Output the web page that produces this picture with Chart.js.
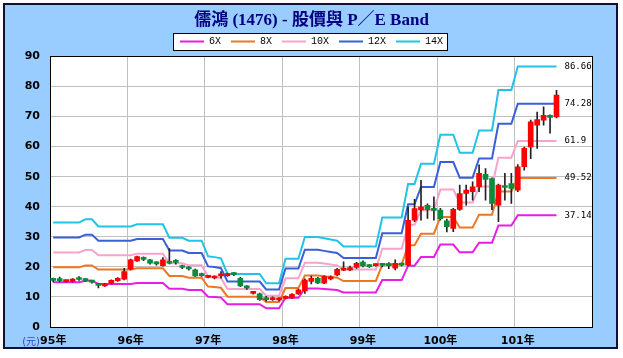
<!DOCTYPE html>
<html>
<head>
<meta charset="utf-8">
<script src="https://cdn.jsdelivr.net/npm/chart.js@4/dist/chart.umd.min.js"></script>
<style>
html,body{margin:0;padding:0;background:#fff;}
canvas{display:block;}
</style>
</head>
<body>
<canvas id="c" width="623" height="358"></canvas>
<script>
// ---- data ----
const titleText = '儒鴻 (1476) - 股價與 P／E Band';
const yearLabels = ['95年','96年','97年','98年','99年','100年','101年'];
const months = [];
for (let y = 95; y <= 101; y++) for (let m = 1; m <= 12; m++) months.push(y + '/' + String(m).padStart(2, '0'));

const open  = [15.8,15.8,15.1,15.2,16.2,15.8,15.2,14.3,13.7,14.5, 15.4,15.9,19.3,22.0,22.9,22.3,21.4,20.4,21.6,22.0, 20.3,19.8,19.0,17.6,16.5,16.3,17.0,17.1,17.8,16.2, 13.5,11.2,11.0,9.4,9.1,9.0,9.5,9.7,11.0,12.0, 15.2,16.2,14.6,16.0,17.3,18.9,19.0,19.8,21.6,20.5, 20.4,20.8,20.8,19.6,21.0,20.6,35.5,38.9,40.5,39.2, 38.9,35.3,32.8,39.1,44.4,45.0,46.6,50.8,49.4,40.5, 46.8,47.7,45.5,53.3,59.9,67.1,68.8,70.1,69.9];
const high  = [16.3,16.6,15.6,16.1,16.8,16.1,15.4,14.5,14.4,15.7, 16.4,19.5,22.6,23.6,23.3,22.5,21.7,23.1,26.1,22.4, 20.6,20.1,19.3,17.9,17.2,17.0,18.4,17.9,18.1,16.5, 13.8,11.9,11.3,10.2,10.0,9.8,10.4,11.1,12.6,16.0, 16.9,16.5,17.0,17.0,19.5,21.7,20.3,21.5,22.0,20.8, 21.0,21.2,21.4,22.3,21.3,40.0,42.5,48.8,41.0,43.3, 39.5,35.9,39.5,47.2,47.2,48.3,53.9,52.7,49.6,47.5, 51.1,51.1,54.0,59.8,68.8,71.5,73.2,70.6,78.7];
const low   = [15.0,15.0,14.9,15.0,15.5,15.2,14.6,13.0,13.5,14.3, 15.2,15.7,19.0,21.8,22.1,20.9,20.6,20.2,21.0,20.9, 19.4,18.9,16.8,16.8,16.3,16.0,16.2,16.8,17.1,13.4, 12.5,10.9,8.8,8.6,8.8,8.7,9.3,9.5,10.8,11.2, 14.3,14.4,14.4,15.7,17.0,18.7,18.7,19.5,20.0,19.8, 20.2,20.0,19.4,19.0,20.3,20.3,35.0,35.5,36.1,35.5, 35.5,31.6,31.7,38.8,40.5,42.2,45.0,42.2,39.0,35.0, 42.2,41.1,45.0,52.2,56.0,59.4,67.1,64.5,69.5];
const close = [15.5,15.4,15.4,15.9,15.8,15.4,14.9,13.8,14.2,15.5, 16.2,18.4,22.3,23.4,22.5,21.2,21.0,22.3,21.2,21.5, 19.8,19.3,17.0,17.1,16.9,16.7,17.5,17.5,17.4,13.7, 13.0,11.6,9.1,9.1,9.4,9.3,10.1,10.9,12.4,15.6, 16.2,14.7,16.8,16.4,19.2,19.6,19.8,21.2,20.3,20.1, 20.8,20.5,20.4,21.2,20.6,35.5,39.4,40.0,39.0,38.8, 36.0,33.4,39.1,44.4,45.5,46.6,51.1,49.1,41.1,47.2, 46.4,46.1,53.3,59.4,68.2,69.0,70.4,69.7,77.1];

const band6X  = [14.88,14.88,14.88,14.88,14.88,15.36,15.36,14.34,14.34,14.34,14.34,14.34,14.34,14.64,14.64,14.64,14.64,14.64,12.72,12.72,12.72,12.3,12.3,12.3,10.08,9.96,9.78,7.56,7.56,7.56,7.56,7.56,7.56,6.24,6.24,6.24,9.72,9.72,9.72,12.84,12.84,12.84,12.66,12.48,12.3,11.46,11.46,11.46,11.46,11.46,11.46,15.6,15.6,15.6,15.6,20.4,20.4,23.28,23.28,23.28,27.42,27.42,27.42,24.84,24.84,24.84,28.02,28.02,28.02,33.78,33.78,33.78,37.14,37.14,37.14,37.14,37.14,37.14,37.14];
const band8X  = [19.84,19.84,19.84,19.84,19.84,20.48,20.48,19.12,19.12,19.12,19.12,19.12,19.12,19.52,19.52,19.52,19.52,19.52,16.96,16.96,16.96,16.4,16.4,16.4,13.44,13.28,13.04,10.08,10.08,10.08,10.08,10.08,10.08,8.32,8.32,8.32,12.96,12.96,12.96,17.12,17.12,17.12,16.88,16.64,16.4,15.28,15.28,15.28,15.28,15.28,15.28,20.8,20.8,20.8,20.8,27.2,27.2,31.04,31.04,31.04,36.56,36.56,36.56,33.12,33.12,33.12,37.36,37.36,37.36,45.04,45.04,45.04,49.52,49.52,49.52,49.52,49.52,49.52,49.52];
const band10X = [24.8,24.8,24.8,24.8,24.8,25.6,25.6,23.9,23.9,23.9,23.9,23.9,23.9,24.4,24.4,24.4,24.4,24.4,21.2,21.2,21.2,20.5,20.5,20.5,16.8,16.6,16.3,12.6,12.6,12.6,12.6,12.6,12.6,10.4,10.4,10.4,16.2,16.2,16.2,21.4,21.4,21.4,21.1,20.8,20.5,19.1,19.1,19.1,19.1,19.1,19.1,26,26,26,26,34,34,38.8,38.8,38.8,45.7,45.7,45.7,41.4,41.4,41.4,46.7,46.7,46.7,56.3,56.3,56.3,61.9,61.9,61.9,61.9,61.9,61.9,61.9];
const band12X = [29.76,29.76,29.76,29.76,29.76,30.72,30.72,28.68,28.68,28.68,28.68,28.68,28.68,29.28,29.28,29.28,29.28,29.28,25.44,25.44,25.44,24.6,24.6,24.6,20.16,19.92,19.56,15.12,15.12,15.12,15.12,15.12,15.12,12.48,12.48,12.48,19.44,19.44,19.44,25.68,25.68,25.68,25.32,24.96,24.6,22.92,22.92,22.92,22.92,22.92,22.92,31.2,31.2,31.2,31.2,40.8,40.8,46.56,46.56,46.56,54.84,54.84,54.84,49.68,49.68,49.68,56.04,56.04,56.04,67.56,67.56,67.56,74.28,74.28,74.28,74.28,74.28,74.28,74.28];
const band14X = [34.72,34.72,34.72,34.72,34.72,35.84,35.84,33.46,33.46,33.46,33.46,33.46,33.46,34.16,34.16,34.16,34.16,34.16,29.68,29.68,29.68,28.7,28.7,28.7,23.52,23.24,22.82,17.64,17.64,17.64,17.64,17.64,17.64,14.56,14.56,14.56,22.68,22.68,22.68,29.96,29.96,29.96,29.54,29.12,28.7,26.74,26.74,26.74,26.74,26.74,26.74,36.4,36.4,36.4,36.4,47.6,47.6,54.32,54.32,54.32,63.98,63.98,63.98,57.96,57.96,57.96,65.38,65.38,65.38,78.82,78.82,78.82,86.66,86.66,86.66,86.66,86.66,86.66,86.66];

const bandNames  = ['6X','8X','10X','12X','14X'];
const bandSeries = [band6X, band8X, band10X, band12X, band14X];
const bandColors = ['#E61EE6','#EE7722','#F7A3CB','#3A5FD8','#22C3E6'];

// ---- chart ----
const bodies = open.map((o, i) => [o, close[i]]);
const wicks  = low.map((l, i) => [l, high[i]]);
const bodyColors = open.map((o, i) => close[i] >= o ? '#FF0000' : '#0B8B3B');

const datasets = [
  { type: 'bar', label: 'body', data: bodies, backgroundColor: bodyColors, barThickness: 5, grouped: false, minBarLength: 2, order: 0 },
  { type: 'bar', label: 'wick', data: wicks, backgroundColor: '#222', barThickness: 1, grouped: false, order: 1 }
];
bandNames.forEach((n, k) => datasets.push({
  type: 'line', label: n, data: bandSeries[k], borderColor: bandColors[k], backgroundColor: bandColors[k],
  borderWidth: 2, pointRadius: 0, tension: 0, fill: false, order: 2
}));

const framePlugin = {
  id: 'frame',
  beforeDraw(chart) {
    const { ctx, chartArea: a } = chart;
    ctx.save();
    ctx.fillStyle = '#fff';
    ctx.fillRect(0, 0, chart.width, chart.height);
    ctx.fillStyle = '#99CCFF';
    ctx.fillRect(4, 4, 613, 344);
    ctx.strokeStyle = '#10103a';
    ctx.lineWidth = 2;
    ctx.strokeRect(4, 4, 613, 344);
    ctx.fillStyle = '#fff';
    ctx.fillRect(a.left, a.top, a.right - a.left, a.bottom - a.top);
    const hb = chart.legend && chart.legend.legendHitBoxes;
    if (hb && hb.length) {
      const l = Math.min(...hb.map(h => h.left)) - 7;
      const r = Math.max(...hb.map(h => h.left + h.width)) + 4;
      const t = hb[0].top - 3;
      const b = hb[0].top + hb[0].height + 4;
      ctx.fillStyle = '#fff';
      ctx.fillRect(l, t, r - l, b - t);
      ctx.strokeStyle = '#000';
      ctx.lineWidth = 1;
      ctx.strokeRect(Math.round(l) + 0.5, Math.round(t) + 0.5, Math.round(r - l), Math.round(b - t));
    }
    ctx.restore();
  },
  beforeDatasetsDraw(chart) {
    const { ctx, chartArea: a } = chart;
    ctx.save();
    ctx.strokeStyle = '#000';
    ctx.lineWidth = 1;
    ctx.strokeRect(Math.round(a.left) + 0.5, Math.round(a.top) + 0.5, Math.round(a.right - a.left), Math.round(a.bottom - a.top));
    ctx.restore();
  },
  afterDatasetsDraw(chart) {
    const { ctx } = chart;
    ctx.save();
    ctx.font = "9px 'DejaVu Sans Mono', monospace";
    ctx.fillStyle = '#000';
    ctx.textBaseline = 'middle';
    ctx.textAlign = 'left';
    chart.data.datasets.forEach((ds, i) => {
      if (!bandNames.includes(ds.label)) return;
      const meta = chart.getDatasetMeta(i);
      const last = meta.data.length - 1;
      const pt = meta.data[last];
      ctx.fillText(String(ds.data[last]), pt.x + 8, pt.y);
    });
    ctx.restore();
  },
  afterDraw(chart) {
    const { ctx } = chart;
    ctx.save();
    ctx.font = "10px 'DejaVu Sans', 'Noto Sans CJK TC', sans-serif";
    ctx.fillStyle = '#3344CC';
    ctx.textBaseline = 'middle';
    ctx.textAlign = 'right';
    ctx.fillText('(元)', 40, chart.chartArea.bottom + 15);
    ctx.restore();
  }
};

new Chart(document.getElementById('c'), {
  type: 'bar',
  data: { labels: months, datasets },
  options: {
    responsive: false,
    animation: false,
    layout: { padding: { top: 10, right: 0, bottom: 0, left: 0 } },
    plugins: {
      title: {
        display: true, text: titleText, color: '#000080',
        font: { family: "'Liberation Serif', 'Noto Sans CJK TC', serif", size: 17, weight: 'bold' },
        padding: { top: 0, bottom: -4 }
      },
      legend: {
        display: true, position: 'top',
        labels: {
          usePointStyle: true, pointStyle: 'line', pointStyleWidth: 24, padding: 10,
          color: '#000', font: { family: "'Liberation Mono', monospace", size: 10 },
          filter: item => bandNames.includes(item.text)
        }
      },
      tooltip: { enabled: false }
    },
    scales: {
      x: {
        type: 'category', offset: true,
        grid: { offset: true, drawTicks: false, color: c => (c.index % 12 === 0 ? '#C0C0C0' : 'rgba(0,0,0,0)') },
        border: { display: false },
        ticks: {
          autoSkip: false, maxRotation: 0, padding: 8, labelOffset: 0, color: '#000',
          font: { family: "'DejaVu Sans', 'Noto Sans CJK TC', sans-serif", size: 11, weight: 'bold' },
          callback: (v, i) => (i % 12 === 0 ? yearLabels[i / 12] : '')
        },
        afterFit: s => { s.height = 31; }
      },
      y: {
        min: 0, max: 90,
        grid: { color: '#C0C0C0', drawTicks: false },
        border: { display: false },
        ticks: {
          stepSize: 10, padding: 10, color: '#000',
          font: { family: "'DejaVu Sans', sans-serif", size: 11, weight: 'bold' }
        },
        afterFit: s => { s.width = 50; }
      },
      yRight: {
        position: 'right', display: true,
        grid: { display: false }, border: { display: false },
        ticks: { display: false },
        afterFit: s => { s.width = 31; }
      }
    }
  },
  plugins: [framePlugin]
});
</script>
</body>
</html>
